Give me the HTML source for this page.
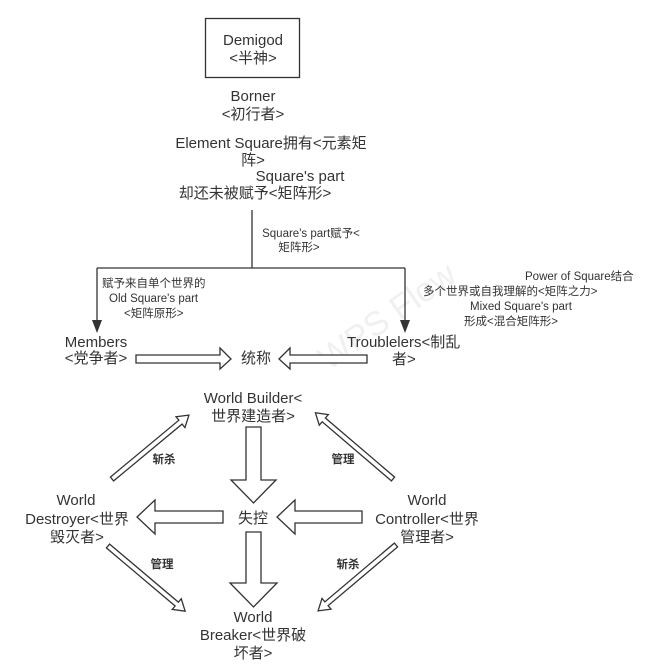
<!DOCTYPE html>
<html><head><meta charset="utf-8"><style>
html,body{margin:0;padding:0;background:#fff;}
svg{display:block;}
text{font-family:"Liberation Sans","Noto Sans CJK SC",sans-serif;fill:#333;}
.m{font-size:15px;text-anchor:middle;}
.s{font-size:11.5px;}
.sm{font-size:11.5px;text-anchor:middle;}
.ar{fill:#fff;stroke:#333;stroke-width:1.3;}
</style></head><body>
<svg width="660" height="667" viewBox="0 0 660 667" xmlns="http://www.w3.org/2000/svg">
<text x="300" y="380" transform="rotate(-35 300 330)" style="font-size:34px;fill:#f0f0f0;">WPS Flow</text>
<rect x="205.5" y="18.5" width="94" height="59" fill="#fff" stroke="#333" stroke-width="1.3"/>
<text class="m" x="253" y="45">Demigod</text>
<text class="m" x="253" y="63">&lt;半神&gt;</text>
<text class="m" x="253" y="101">Borner</text>
<text class="m" x="253" y="119">&lt;初行者&gt;</text>
<text class="m" x="271" y="148">Element Square拥有&lt;元素矩</text>
<text class="m" x="253" y="165">阵&gt;</text>
<text class="m" x="300" y="181">Square's part</text>
<text class="m" x="255" y="198">却还未被赋予&lt;矩阵形&gt;</text>
<path d="M252 210 V268 M97 268 H405 M97 268 V322 M405 268 V322" stroke="#333" stroke-width="1.3" fill="none"/>
<polygon points="92,320 102,320 97,333" fill="#333"/>
<polygon points="400,320 410,320 405,333" fill="#333"/>
<text class="sm" x="311" y="237">Square's part赋予&lt;</text>
<text class="sm" x="299" y="251">矩阵形&gt;</text>
<text class="s" x="102" y="287">赋予来自单个世界的</text>
<text class="s" x="109" y="302">Old Square's part</text>
<text class="s" x="124" y="317">&lt;矩阵原形&gt;</text>
<text class="s" x="525" y="280">Power of Square结合</text>
<text class="s" x="423" y="295">多个世界或自我理解的&lt;矩阵之力&gt;</text>
<text class="s" x="470" y="310">Mixed Square's part</text>
<text class="s" x="464" y="325">形成&lt;混合矩阵形&gt;</text>
<text class="m" x="96" y="347">Members</text>
<text class="m" x="96" y="363">&lt;党争者&gt;</text>
<text class="m" x="256" y="363">统称</text>
<text x="347" y="347" style="font-size:15px">Troublelers&lt;制乱</text>
<text x="392" y="364" style="font-size:15px">者&gt;</text>
<polygon class="ar" points="136,355 220,355 220,348 231,359 220,369 220,363 136,363"/>
<polygon class="ar" points="367,355 290,355 290,348 279,359 290,369 290,363 367,363"/>
<text class="m" x="253" y="403">World Builder&lt;</text>
<text class="m" x="253" y="421">世界建造者&gt;</text>
<text class="m" x="253" y="523">失控</text>
<text class="m" x="76" y="505">World</text>
<text class="m" x="77" y="524">Destroyer&lt;世界</text>
<text class="m" x="77" y="542">毁灭者&gt;</text>
<text class="m" x="427" y="505">World</text>
<text class="m" x="427" y="524">Controller&lt;世界</text>
<text class="m" x="427" y="542">管理者&gt;</text>
<text class="m" x="253" y="622">World</text>
<text class="m" x="253" y="640">Breaker&lt;世界破</text>
<text class="m" x="253" y="658">坏者&gt;</text>
<polygon class="ar" points="246,427 261,427 261,480 276,480 253.5,503 231,480 246,480"/>
<polygon class="ar" points="246,532 261,532 261,583 277,583 253.5,607 230,583 246,583"/>
<polygon class="ar" points="223,511 155,511 155,500 137,517 155,534 155,523 223,523"/>
<polygon class="ar" points="362,511 295,511 295,500 277,517 295,534 295,523 362,523"/>
<g transform="translate(112,479) rotate(-39.7)"><polygon class="ar" points="0,-2.5 89,-2.5 89,-7 100,0 89,7 89,2.5 0,2.5"/></g>
<g transform="translate(393,479) rotate(-139.5)"><polygon class="ar" points="0,-2.5 91,-2.5 91,-7 102,0 91,7 91,2.5 0,2.5"/></g>
<g transform="translate(108,546) rotate(40.2)"><polygon class="ar" points="0,-2.5 90,-2.5 90,-7 101,0 90,7 90,2.5 0,2.5"/></g>
<g transform="translate(396,545) rotate(139.8)"><polygon class="ar" points="0,-2.5 91,-2.5 91,-7 102,0 91,7 91,2.5 0,2.5"/></g>
<text class="sm" x="164" y="463" style="font-weight:bold">斩杀</text>
<text class="sm" x="343" y="463" style="font-weight:bold">管理</text>
<text class="sm" x="162" y="568" style="font-weight:bold">管理</text>
<text class="sm" x="348" y="568" style="font-weight:bold">斩杀</text>
</svg>
</body></html>
